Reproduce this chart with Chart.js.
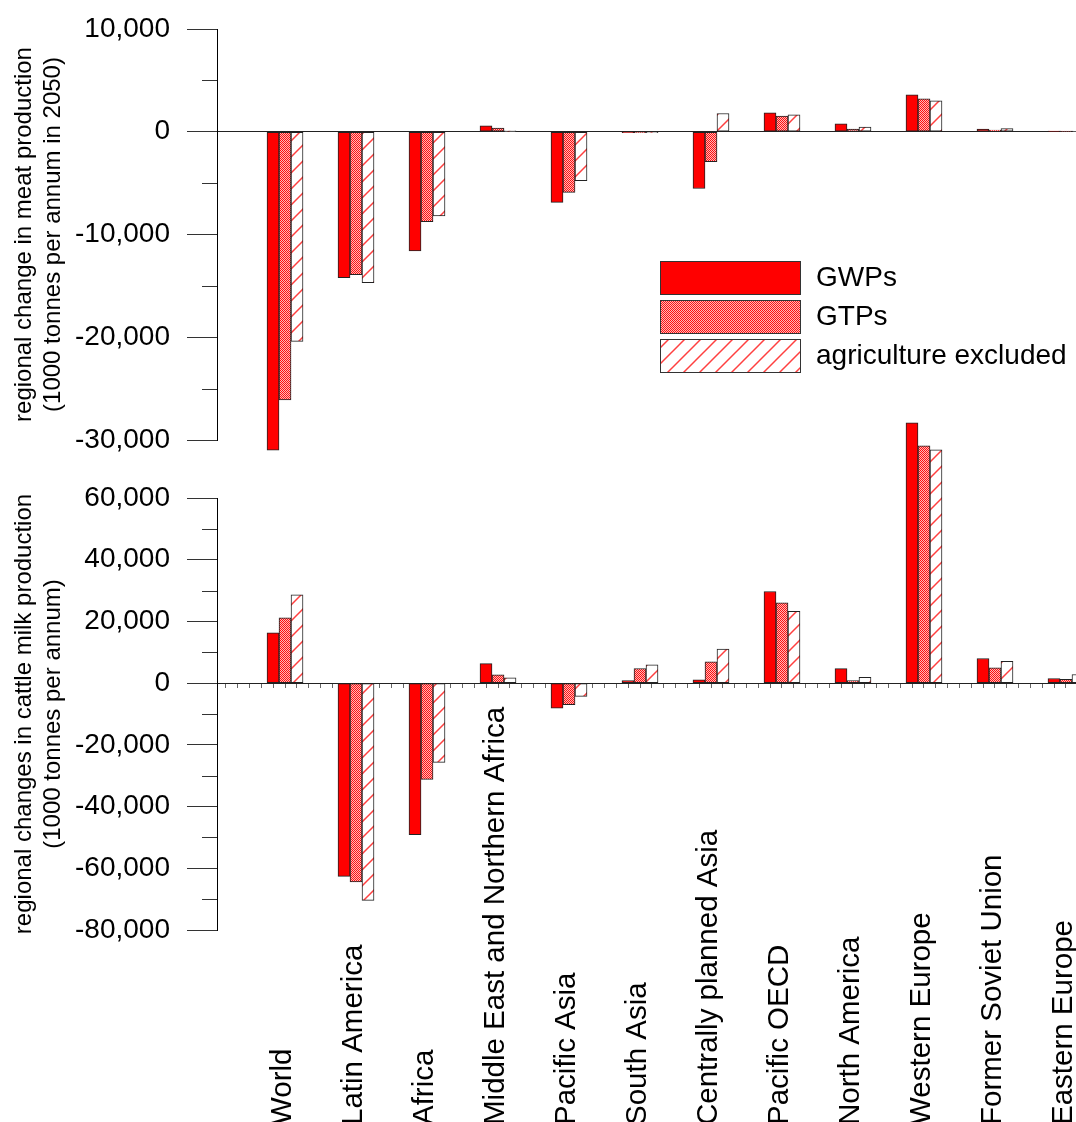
<!DOCTYPE html>
<html>
<head>
<meta charset="utf-8">
<script src="https://cdn.jsdelivr.net/npm/chart.js@4/dist/chart.umd.min.js"></script>
<style>
  body { margin: 0; background: #fff; overflow: hidden; }
  #wrap { position: relative; width: 1076px; height: 1122px; }
  canvas { position: absolute; left: 0; }
  #meatChart { top: 0; }
  #milkChart { top: 400px; }
</style>
</head>
<body>
<div id="wrap">
  <canvas id="meatChart" width="1076" height="470"></canvas>
  <canvas id="milkChart" width="1076" height="722"></canvas>
</div>
<script>
const regions = ['World', 'Latin America', 'Africa', 'Middle East and Northern Africa', 'Pacific Asia',
  'South Asia', 'Centrally planned Asia', 'Pacific OECD', 'North America', 'Western Europe',
  'Former Soviet Union', 'Eastern Europe'];
const seriesNames = ['GWPs', 'GTPs', 'agriculture excluded'];

// meat, 1000 tonnes per annum in 2050
const meatGWP = [-31000, -14200, -11600, 580, -6880, -100, -5520, 1850, 780, 3600, 270, 60];
const meatGTP = [-26100, -13900, -8750, 360, -5900, -100, -2920, 1530, 260, 3200, 170, 60];
const meatAgEx = [-20400, -14700, -8200, 80, -4770, -100, 1780, 1650, 450, 3000, 300, 60];

// cattle milk, 1000 tonnes per annum
const milkGWP = [16300, -62600, -49100, 6300, -8100, 870, 1100, 29700, 4700, 84400, 8000, 1500];
const milkGTP = [21200, -64400, -31200, 2700, -7000, 4750, 6900, 26000, 800, 76900, 5000, 1200];
const milkAgEx = [28600, -70400, -25700, 1750, -4300, 5950, 11000, 23300, 1850, 75600, 7100, 2800];

const meatTicks = [10000, 0, -10000, -20000, -30000];
const milkTicks = [60000, 40000, 20000, 0, -20000, -40000, -60000, -80000];

Chart.defaults.font.family = "'Liberation Sans', Arial, sans-serif";
Chart.defaults.color = '#000';

// fills
function dotPattern() {
  const c = document.createElement('canvas');
  c.width = 2; c.height = 2;
  const g = c.getContext('2d');
  g.fillStyle = '#ffb8b8';
  g.fillRect(0, 0, 2, 2);
  g.fillStyle = '#ff1010';
  g.fillRect(0, 0, 1, 1);
  g.fillRect(1, 1, 1, 1);
  return g.createPattern(c, 'repeat');
}
function hatchPattern() {
  const s = 16;
  const c = document.createElement('canvas');
  c.width = s; c.height = s;
  const g = c.getContext('2d');
  g.fillStyle = '#fff';
  g.fillRect(0, 0, s, s);
  g.strokeStyle = '#ff4040';
  g.lineWidth = 1.5;
  g.beginPath();
  g.moveTo(0, s); g.lineTo(s, 0);
  g.moveTo(-2, 2); g.lineTo(2, -2);
  g.moveTo(s - 2, s + 2); g.lineTo(s + 2, s - 2);
  g.stroke();
  return g.createPattern(c, 'repeat');
}
const fills = ['#ff0000', dotPattern(), hatchPattern()];

const xMin = -0.958;
const xMax = 11.141;

function makeSets(lists) {
  return lists.map((vals, k) => ({
    label: seriesNames[k],
    data: vals.map((v, i) => ({ x: i, y: v })),
    backgroundColor: fills[k],
    borderColor: '#222',
    borderWidth: 1,
    borderSkipped: false,
    barThickness: 12,
    clip: false
  }));
}

function noPad(scale) {
  scale.paddingLeft = 0;
  scale.paddingRight = 0;
  scale.paddingTop = 0;
  scale.paddingBottom = 0;
}

// short ticks between the labelled steps
const minorTicks = {
  id: 'minorTicks',
  afterDraw(chart, args, opts) {
    const y = chart.scales.y;
    const ctx = chart.ctx;
    ctx.save();
    ctx.strokeStyle = '#333';
    ctx.lineWidth = 1;
    for (let v = y.min + opts.step / 2; v < y.max; v += opts.step) {
      const py = Math.round(y.getPixelForValue(v)) + 0.5;
      ctx.beginPath();
      ctx.moveTo(chart.chartArea.left - 15, py);
      ctx.lineTo(chart.chartArea.left, py);
      ctx.stroke();
    }
    ctx.restore();
  }
};

const boxLegend = {
  id: 'boxLegend',
  afterDraw(chart) {
    const ctx = chart.ctx;
    const tops = [261, 300, 339];
    ctx.save();
    chart.data.datasets.forEach((ds, k) => {
      ctx.fillStyle = ds.backgroundColor;
      ctx.fillRect(660, tops[k], 140, 33);
      ctx.strokeStyle = '#333';
      ctx.lineWidth = 1;
      ctx.strokeRect(660.5, tops[k] + 0.5, 140, 33);
      ctx.fillStyle = '#000';
      ctx.font = "28px 'Liberation Sans', Arial, sans-serif";
      ctx.textBaseline = 'middle';
      ctx.textAlign = 'left';
      ctx.fillText(ds.label, 816, tops[k] + 17);
    });
    ctx.restore();
  }
};

const regionLabels = {
  id: 'regionLabels',
  afterDraw(chart) {
    const ctx = chart.ctx;
    const x = chart.scales.x;
    ctx.save();
    ctx.fillStyle = '#000';
    ctx.font = "29.5px 'Liberation Sans', Arial, sans-serif";
    ctx.textAlign = 'left';
    ctx.textBaseline = 'middle';
    regions.forEach((name, i) => {
      ctx.save();
      ctx.translate(x.getPixelForValue(i) - 2, chart.height + 3);
      ctx.rotate(-Math.PI / 2);
      ctx.fillText(name, 0, 0);
      ctx.restore();
    });
    ctx.restore();
  }
};

function makeOptions(yMin, yMax, tickVals, title, padTop, padBottom, showXTicks, step) {
  return {
    responsive: false,
    animation: false,
    layout: { autoPadding: false, padding: { left: 0, right: 0, top: padTop, bottom: padBottom } },
    plugins: {
      legend: { display: false },
      tooltip: { enabled: false },
      minorTicks: { step: step }
    },
    scales: {
      x: {
        type: 'linear',
        offset: false,
        min: xMin,
        max: xMax,
        position: { y: 0 },
        afterBuildTicks(scale) {
          const t = [];
          for (let n = -4; -0.25 + n / 6 <= xMax; n++) t.push({ value: -0.25 + n / 6 });
          scale.ticks = t;
        },
        afterFit(scale) { scale.height = 0; noPad(scale); },
        ticks: { display: false },
        grid: { drawOnChartArea: false, drawTicks: showXTicks, tickLength: 4, tickColor: '#666' },
        border: { display: true, color: '#222', width: 1 }
      },
      y: {
        position: 'left',
        min: yMin,
        max: yMax,
        afterFit(scale) { scale.width = 217; noPad(scale); },
        afterBuildTicks(scale) { scale.ticks = tickVals.map(v => ({ value: v })); },
        ticks: {
          padding: 17,
          font: { size: 28 },
          callback: v => v.toLocaleString('en-US')
        },
        grid: { drawOnChartArea: false, drawTicks: true, tickLength: 30, tickColor: '#333' },
        border: { display: true, color: '#000', width: 1 },
        title: {
          display: true,
          text: title,
          font: { size: 24 },
          padding: { top: 10, bottom: 0 }
        }
      }
    }
  };
}

new Chart(document.getElementById('meatChart'), {
  type: 'bar',
  data: { datasets: makeSets([meatGWP, meatGTP, meatAgEx]) },
  options: makeOptions(-30000, 10000, meatTicks,
    ['regional change in meat production', '(1000 tonnes per annum in 2050)'], 29, 30, false, 10000),
  plugins: [minorTicks, boxLegend]
});

new Chart(document.getElementById('milkChart'), {
  type: 'bar',
  data: { datasets: makeSets([milkGWP, milkGTP, milkAgEx]) },
  options: makeOptions(-80000, 60000, milkTicks,
    ['regional changes in cattle milk production', '(1000 tonnes per annum)'], 98, 192, true, 20000),
  plugins: [minorTicks, regionLabels]
});
</script>
</body>
</html>
